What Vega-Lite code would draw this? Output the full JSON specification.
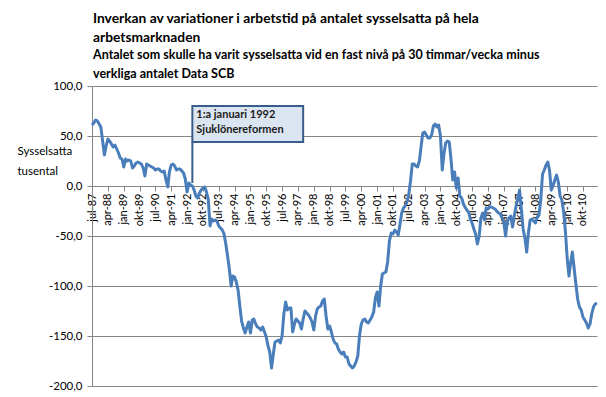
{
  "$schema": "https://vega.github.io/schema/vega-lite/v6.json",
  "autosize": {"type": "none"},
  "width": 505,
  "height": 300,
  "padding": {"left": 92, "top": 86, "right": 9, "bottom": 11},
  "background": "white",
  "title": {
    "text": ["Inverkan av variationer i arbetstid på antalet sysselsatta på hela", "arbetsmarknaden"],
    "subtitle": ["Antalet som skulle  ha varit sysselsatta vid en fast nivå på 30 timmar/vecka  minus", "verkliga antalet Data SCB"],
    "anchor": "start",
    "frame": "group",
    "dx": 1,
    "font": "Lato",
    "fontSize": 13.8,
    "fontWeight": "bold",
    "lineHeight": 19,
    "color": "black",
    "subtitleFont": "Lato",
    "subtitleFontSize": 12.5,
    "subtitleFontWeight": "bold",
    "subtitleLineHeight": 18,
    "subtitleColor": "black",
    "subtitlePadding": 5,
    "offset": 0
  },
  "data": {"values": [
    {"d":"1987-07-01","v":61},{"d":"1987-08-01","v":63},{"d":"1987-09-01","v":66},{"d":"1987-10-01","v":65},{"d":"1987-11-01","v":62},{"d":"1987-12-01","v":59},
    {"d":"1988-01-01","v":45},{"d":"1988-02-01","v":31},{"d":"1988-03-01","v":40},{"d":"1988-04-01","v":47},{"d":"1988-05-01","v":45},{"d":"1988-06-01","v":42},{"d":"1988-07-01","v":39},{"d":"1988-08-01","v":41},{"d":"1988-09-01","v":37},{"d":"1988-10-01","v":33},{"d":"1988-11-01","v":28},{"d":"1988-12-01","v":27},
    {"d":"1989-01-01","v":19},{"d":"1989-02-01","v":27},{"d":"1989-03-01","v":25},{"d":"1989-04-01","v":26},{"d":"1989-05-01","v":25},{"d":"1989-06-01","v":18},{"d":"1989-07-01","v":20},{"d":"1989-08-01","v":23},{"d":"1989-09-01","v":24},{"d":"1989-10-01","v":23},{"d":"1989-11-01","v":22},{"d":"1989-12-01","v":18},
    {"d":"1990-01-01","v":10},{"d":"1990-02-01","v":22},{"d":"1990-03-01","v":21},{"d":"1990-04-01","v":20},{"d":"1990-05-01","v":19},{"d":"1990-06-01","v":18},{"d":"1990-07-01","v":16},{"d":"1990-08-01","v":17},{"d":"1990-09-01","v":17},{"d":"1990-10-01","v":15},{"d":"1990-11-01","v":14},{"d":"1990-12-01","v":15},
    {"d":"1991-01-01","v":6},{"d":"1991-02-01","v":-1},{"d":"1991-03-01","v":14},{"d":"1991-04-01","v":21},{"d":"1991-05-01","v":22},{"d":"1991-06-01","v":20},{"d":"1991-07-01","v":16},{"d":"1991-08-01","v":17},{"d":"1991-09-01","v":17},{"d":"1991-10-01","v":15},{"d":"1991-11-01","v":13},{"d":"1991-12-01","v":7},
    {"d":"1992-01-01","v":-6},{"d":"1992-02-01","v":3},{"d":"1992-03-01","v":1},{"d":"1992-04-01","v":0},{"d":"1992-05-01","v":-4},{"d":"1992-06-01","v":-10},{"d":"1992-07-01","v":-12},{"d":"1992-08-01","v":-7},{"d":"1992-09-01","v":-4},{"d":"1992-10-01","v":-2},{"d":"1992-11-01","v":-1},{"d":"1992-12-01","v":-6},
    {"d":"1993-01-01","v":-13},{"d":"1993-02-01","v":-40},{"d":"1993-03-01","v":-33},{"d":"1993-04-01","v":-35},{"d":"1993-05-01","v":-34},{"d":"1993-06-01","v":-35},{"d":"1993-07-01","v":-40},{"d":"1993-08-01","v":-42},{"d":"1993-09-01","v":-44},{"d":"1993-10-01","v":-48},{"d":"1993-11-01","v":-58},{"d":"1993-12-01","v":-70},
    {"d":"1994-01-01","v":-83},{"d":"1994-02-01","v":-100},{"d":"1994-03-01","v":-90},{"d":"1994-04-01","v":-91},{"d":"1994-05-01","v":-96},{"d":"1994-06-01","v":-104},{"d":"1994-07-01","v":-120},{"d":"1994-08-01","v":-135},{"d":"1994-09-01","v":-142},{"d":"1994-10-01","v":-147},{"d":"1994-11-01","v":-141},{"d":"1994-12-01","v":-136},
    {"d":"1995-01-01","v":-147},{"d":"1995-02-01","v":-134},{"d":"1995-03-01","v":-133},{"d":"1995-04-01","v":-138},{"d":"1995-05-01","v":-141},{"d":"1995-06-01","v":-142},{"d":"1995-07-01","v":-144},{"d":"1995-08-01","v":-141},{"d":"1995-09-01","v":-146},{"d":"1995-10-01","v":-151},{"d":"1995-11-01","v":-160},{"d":"1995-12-01","v":-166},
    {"d":"1996-01-01","v":-182},{"d":"1996-02-01","v":-168},{"d":"1996-03-01","v":-156},{"d":"1996-04-01","v":-155},{"d":"1996-05-01","v":-154},{"d":"1996-06-01","v":-157},{"d":"1996-07-01","v":-150},{"d":"1996-08-01","v":-128},{"d":"1996-09-01","v":-116},{"d":"1996-10-01","v":-124},{"d":"1996-11-01","v":-122},{"d":"1996-12-01","v":-122},
    {"d":"1997-01-01","v":-146},{"d":"1997-02-01","v":-138},{"d":"1997-03-01","v":-133},{"d":"1997-04-01","v":-135},{"d":"1997-05-01","v":-137},{"d":"1997-06-01","v":-143},{"d":"1997-07-01","v":-133},{"d":"1997-08-01","v":-125},{"d":"1997-09-01","v":-127},{"d":"1997-10-01","v":-129},{"d":"1997-11-01","v":-132},{"d":"1997-12-01","v":-136},
    {"d":"1998-01-01","v":-144},{"d":"1998-02-01","v":-130},{"d":"1998-03-01","v":-123},{"d":"1998-04-01","v":-121},{"d":"1998-05-01","v":-120},{"d":"1998-06-01","v":-115},{"d":"1998-07-01","v":-113},{"d":"1998-08-01","v":-130},{"d":"1998-09-01","v":-143},{"d":"1998-10-01","v":-140},{"d":"1998-11-01","v":-146},{"d":"1998-12-01","v":-153},
    {"d":"1999-01-01","v":-157},{"d":"1999-02-01","v":-158},{"d":"1999-03-01","v":-163},{"d":"1999-04-01","v":-166},{"d":"1999-05-01","v":-168},{"d":"1999-06-01","v":-166},{"d":"1999-07-01","v":-171},{"d":"1999-08-01","v":-171},{"d":"1999-09-01","v":-178},{"d":"1999-10-01","v":-180},{"d":"1999-11-01","v":-182},{"d":"1999-12-01","v":-180},
    {"d":"2000-01-01","v":-176},{"d":"2000-02-01","v":-170},{"d":"2000-03-01","v":-150},{"d":"2000-04-01","v":-138},{"d":"2000-05-01","v":-134},{"d":"2000-06-01","v":-133},{"d":"2000-07-01","v":-136},{"d":"2000-08-01","v":-137},{"d":"2000-09-01","v":-134},{"d":"2000-10-01","v":-131},{"d":"2000-11-01","v":-126},{"d":"2000-12-01","v":-112},
    {"d":"2001-01-01","v":-106},{"d":"2001-02-01","v":-120},{"d":"2001-03-01","v":-101},{"d":"2001-04-01","v":-88},{"d":"2001-05-01","v":-87},{"d":"2001-06-01","v":-86},{"d":"2001-07-01","v":-76},{"d":"2001-08-01","v":-55},{"d":"2001-09-01","v":-47},{"d":"2001-10-01","v":-48},{"d":"2001-11-01","v":-44},{"d":"2001-12-01","v":-46},
    {"d":"2002-01-01","v":-49},{"d":"2002-02-01","v":-38},{"d":"2002-03-01","v":-27},{"d":"2002-04-01","v":-22},{"d":"2002-05-01","v":-20},{"d":"2002-06-01","v":-16},{"d":"2002-07-01","v":-9},{"d":"2002-08-01","v":5},{"d":"2002-09-01","v":22},{"d":"2002-10-01","v":22},{"d":"2002-11-01","v":20},{"d":"2002-12-01","v":19},
    {"d":"2003-01-01","v":25},{"d":"2003-02-01","v":40},{"d":"2003-03-01","v":53},{"d":"2003-04-01","v":54},{"d":"2003-05-01","v":51},{"d":"2003-06-01","v":48},{"d":"2003-07-01","v":48},{"d":"2003-08-01","v":51},{"d":"2003-09-01","v":60},{"d":"2003-10-01","v":62},{"d":"2003-11-01","v":59},{"d":"2003-12-01","v":61},
    {"d":"2004-01-01","v":50},{"d":"2004-02-01","v":16},{"d":"2004-03-01","v":32},{"d":"2004-04-01","v":43},{"d":"2004-05-01","v":45},{"d":"2004-06-01","v":44},{"d":"2004-07-01","v":27},{"d":"2004-08-01","v":6},{"d":"2004-09-01","v":14},{"d":"2004-10-01","v":-2},{"d":"2004-11-01","v":8},{"d":"2004-12-01","v":-10},
    {"d":"2005-01-01","v":-12},{"d":"2005-02-01","v":-18},{"d":"2005-03-01","v":-21},{"d":"2005-04-01","v":-24},{"d":"2005-05-01","v":-26},{"d":"2005-06-01","v":-33},{"d":"2005-07-01","v":-37},{"d":"2005-08-01","v":-43},{"d":"2005-09-01","v":-48},{"d":"2005-10-01","v":-58},{"d":"2005-11-01","v":-50},{"d":"2005-12-01","v":-32},
    {"d":"2006-01-01","v":-27},{"d":"2006-02-01","v":-34},{"d":"2006-03-01","v":-22},{"d":"2006-04-01","v":-23},{"d":"2006-05-01","v":-21},{"d":"2006-06-01","v":-21},{"d":"2006-07-01","v":-22},{"d":"2006-08-01","v":-23},{"d":"2006-09-01","v":-25},{"d":"2006-10-01","v":-27},{"d":"2006-11-01","v":-28},{"d":"2006-12-01","v":-32},
    {"d":"2007-01-01","v":-36},{"d":"2007-02-01","v":-50},{"d":"2007-03-01","v":-36},{"d":"2007-04-01","v":-32},{"d":"2007-05-01","v":-30},{"d":"2007-06-01","v":-41},{"d":"2007-07-01","v":-30},{"d":"2007-08-01","v":-20},{"d":"2007-09-01","v":-12},{"d":"2007-10-01","v":-4},{"d":"2007-11-01","v":-24},{"d":"2007-12-01","v":-43},
    {"d":"2008-01-01","v":-52},{"d":"2008-02-01","v":-66},{"d":"2008-03-01","v":-47},{"d":"2008-04-01","v":-34},{"d":"2008-05-01","v":-33},{"d":"2008-06-01","v":-35},{"d":"2008-07-01","v":-37},{"d":"2008-08-01","v":-31},{"d":"2008-09-01","v":-29},{"d":"2008-10-01","v":-14},{"d":"2008-11-01","v":12},{"d":"2008-12-01","v":16},
    {"d":"2009-01-01","v":21},{"d":"2009-02-01","v":24},{"d":"2009-03-01","v":16},{"d":"2009-04-01","v":-4},{"d":"2009-05-01","v":0},{"d":"2009-06-01","v":6},{"d":"2009-07-01","v":11},{"d":"2009-08-01","v":4},{"d":"2009-09-01","v":-10},{"d":"2009-10-01","v":-14},{"d":"2009-11-01","v":-26},{"d":"2009-12-01","v":-45},
    {"d":"2010-01-01","v":-72},{"d":"2010-02-01","v":-90},{"d":"2010-03-01","v":-77},{"d":"2010-04-01","v":-66},{"d":"2010-05-01","v":-82},{"d":"2010-06-01","v":-98},{"d":"2010-07-01","v":-113},{"d":"2010-08-01","v":-121},{"d":"2010-09-01","v":-124},{"d":"2010-10-01","v":-131},{"d":"2010-11-01","v":-134},{"d":"2010-12-01","v":-137},
    {"d":"2011-01-01","v":-142},{"d":"2011-02-01","v":-138},{"d":"2011-03-01","v":-128},{"d":"2011-04-01","v":-121},{"d":"2011-05-01","v":-118},{"d":"2011-06-01","v":-117}
  ]},
  "layer": [
    {
      "mark": {"type": "line", "color": "#4a7ebb", "strokeWidth": 3, "strokeJoin": "round"},
      "encoding": {
        "x": {
          "field": "d", "type": "temporal",
          "scale": {"type": "utc", "domain": [{"year": 1987, "month": 7, "date": 1, "utc": true}, {"year": 2011, "month": 6, "date": 1, "utc": true}]},
          "axis": {
            "orient": "bottom",
            "offset": -200,
            "title": null,
            "grid": false,
            "tickCount": 200,
            "values": [
              {"year":1987,"month":7,"date":1,"utc":true},{"year":1988,"month":4,"date":1,"utc":true},{"year":1989,"month":1,"date":1,"utc":true},{"year":1989,"month":10,"date":1,"utc":true},
              {"year":1990,"month":7,"date":1,"utc":true},{"year":1991,"month":4,"date":1,"utc":true},{"year":1992,"month":1,"date":1,"utc":true},{"year":1992,"month":10,"date":1,"utc":true},
              {"year":1993,"month":7,"date":1,"utc":true},{"year":1994,"month":4,"date":1,"utc":true},{"year":1995,"month":1,"date":1,"utc":true},{"year":1995,"month":10,"date":1,"utc":true},
              {"year":1996,"month":7,"date":1,"utc":true},{"year":1997,"month":4,"date":1,"utc":true},{"year":1998,"month":1,"date":1,"utc":true},{"year":1998,"month":10,"date":1,"utc":true},
              {"year":1999,"month":7,"date":1,"utc":true},{"year":2000,"month":4,"date":1,"utc":true},{"year":2001,"month":1,"date":1,"utc":true},{"year":2001,"month":10,"date":1,"utc":true},
              {"year":2002,"month":7,"date":1,"utc":true},{"year":2003,"month":4,"date":1,"utc":true},{"year":2004,"month":1,"date":1,"utc":true},{"year":2004,"month":10,"date":1,"utc":true},
              {"year":2005,"month":7,"date":1,"utc":true},{"year":2006,"month":4,"date":1,"utc":true},{"year":2007,"month":1,"date":1,"utc":true},{"year":2007,"month":10,"date":1,"utc":true},
              {"year":2008,"month":7,"date":1,"utc":true},{"year":2009,"month":4,"date":1,"utc":true},{"year":2010,"month":1,"date":1,"utc":true},{"year":2010,"month":10,"date":1,"utc":true}
            ],
            "labelExpr": "['jan','feb','mar','apr','maj','jun','jul','aug','sep','okt','nov','dec'][utcmonth(datum.value)] + '-' + utcFormat(datum.value, '%y')",
            "labelAngle": -90,
            "labelAlign": "right",
            "labelBaseline": "middle",
            "labelFont": "Lato",
            "labelFontSize": 11,
            "labelColor": "black",
            "labelPadding": 2,
            "labelOverlap": false,
            "labelFlush": false,
            "tickSize": 5,
            "tickColor": "#868686",
            "domainColor": "#868686"
          }
        },
        "y": {
          "field": "v", "type": "quantitative",
          "scale": {"domain": [-200, 100], "nice": false, "zero": false},
          "axis": {
            "values": [-200, -150, -100, -50, 0, 50, 100],
            "tickCount": 20,
            "labelExpr": "replace(replace(format(datum.value, '.1f'), '.', ','), '\u2212', '-')",
            "labelFont": "Lato",
            "labelFontSize": 11.5,
            "labelColor": "black",
            "labelPadding": 5,
            "tickSize": 5,
            "tickColor": "#868686",
            "domainColor": "#868686",
            "gridColor": "#868686",
            "title": ["Sysselsatta", "tusental"],
            "titleAngle": 0,
            "titleAlign": "left",
            "titleBaseline": "top",
            "titleX": -75,
            "titleY": 59,
            "titleFont": "Lato",
            "titleFontSize": 11.5,
            "titleFontWeight": "normal",
            "titleColor": "black",
            "titleLineHeight": 20
          }
        }
      }
    },
    {
      "data": {"values": [{}]},
      "mark": {"type": "rule", "color": "#385d8a", "strokeWidth": 2},
      "encoding": {
        "x": {"datum": {"year": 1992, "month": 4, "date": 1, "utc": true}, "type": "temporal"},
        "y": {"datum": 44, "type": "quantitative"},
        "y2": {"datum": 3}
      }
    },
    {
      "data": {"values": [{}]},
      "mark": {"type": "rect", "fill": "#dbe5f1", "stroke": "#385d8a", "strokeWidth": 2},
      "encoding": {
        "x": {"datum": {"year": 1992, "month": 4, "date": 1, "utc": true}, "type": "temporal"},
        "x2": {"datum": {"year": 1997, "month": 7, "date": 1, "utc": true}},
        "y": {"datum": 80, "type": "quantitative"},
        "y2": {"datum": 44}
      }
    },
    {
      "data": {"values": [{}]},
      "mark": {"type": "text", "align": "left", "baseline": "middle", "dx": 4, "font": "Lato", "fontWeight": "bold", "fontSize": 11, "lineHeight": 15, "color": "#1a1a1a"},
      "encoding": {
        "x": {"datum": {"year": 1992, "month": 4, "date": 1, "utc": true}, "type": "temporal"},
        "y": {"datum": 71.5, "type": "quantitative"},
        "text": {"value": ["1:a januari 1992", "Sjuklönereformen"]}
      }
    }
  ],
  "config": {
    "view": {"stroke": null},
    "font": "Lato"
  }
}
